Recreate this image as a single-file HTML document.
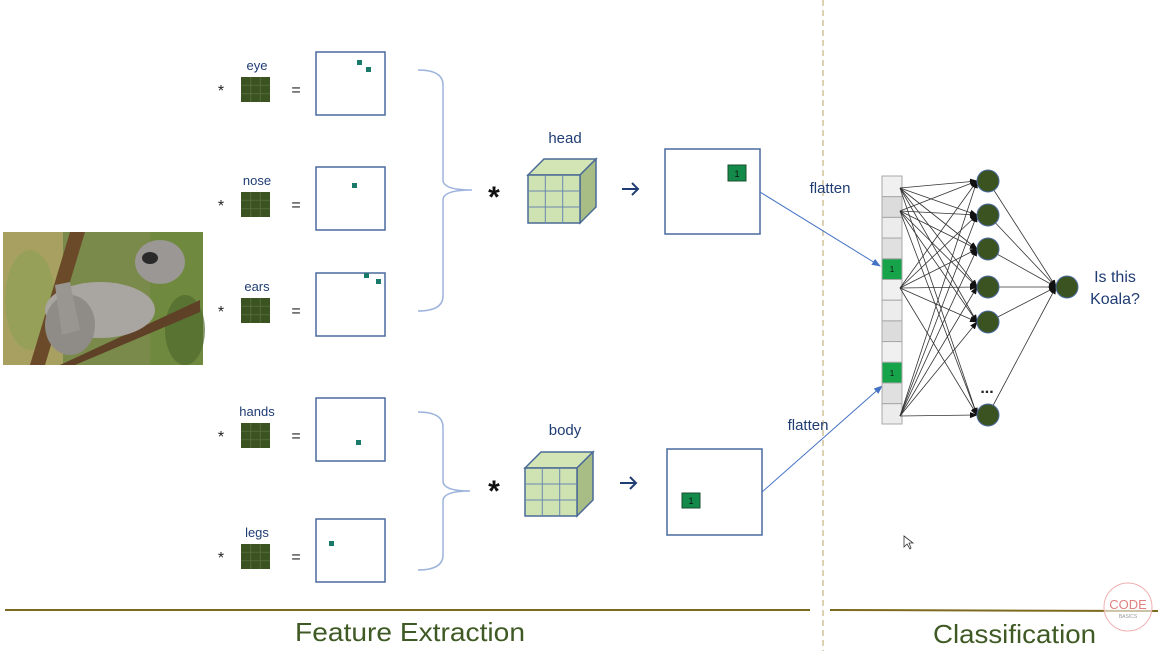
<!DOCTYPE html>
<html><head><meta charset="utf-8"><style>
html,body{margin:0;padding:0;background:#fff;}
svg{display:block;font-family:"Liberation Sans","DejaVu Sans",sans-serif;}
</style></head><body>
<svg width="1168" height="651" viewBox="0 0 1168 651" xmlns="http://www.w3.org/2000/svg">
<defs>
<marker id="ah" markerWidth="8" markerHeight="8" refX="7" refY="4" orient="auto" markerUnits="userSpaceOnUse"><path d="M0,1 L8,4 L0,7 Z" fill="#111"/></marker>
<marker id="ab" markerWidth="9" markerHeight="9" refX="8" refY="4.5" orient="auto" markerUnits="userSpaceOnUse"><path d="M0,1 L9,4.5 L0,8 Z" fill="#4472c4"/></marker>
<g id="filt"><rect x="0" y="0" width="29" height="25" fill="#3b5320"/><path d="M9.7,0V25M19.3,0V25M0,8.3H29M0,16.7H29" stroke="#556b3a" stroke-width="1"/></g>
<g id="cube"><path d="M0,16 L16,0 L68,0 L52,16 Z" fill="#d3e4b5" stroke="#4a6a95" stroke-width="1.5"/><path d="M52,16 L68,0 L68,48 L52,64 Z" fill="#a8bd86" stroke="#4a6a95" stroke-width="1.5"/><rect x="0" y="16" width="52" height="48" fill="#cfe2b1" stroke="#4a6a95" stroke-width="1.5"/><path d="M17.3,16V64M34.7,16V64M0,32H52M0,48H52" stroke="#6a88b0" stroke-width="1"/></g>
</defs>

<!-- koala photo -->
<rect x="3" y="232" width="200" height="133" fill="#7a8a4a"/>
<rect x="3" y="232" width="60" height="133" fill="#a8a060"/>
<rect x="150" y="232" width="53" height="133" fill="#6f8a3e"/>
<ellipse cx="30" cy="300" rx="25" ry="50" fill="#8fa055" opacity="0.7"/>
<ellipse cx="185" cy="330" rx="20" ry="35" fill="#4f6a2e" opacity="0.7"/>
<path d="M30,365 L70,232 L85,232 L45,365 Z" fill="#6b4a2a"/>
<path d="M60,365 L200,300 L200,312 L75,365 Z" fill="#5e4126"/>
<ellipse cx="100" cy="310" rx="55" ry="28" fill="#a9a5a0"/>
<ellipse cx="70" cy="325" rx="25" ry="30" fill="#8f8c88"/>
<ellipse cx="160" cy="262" rx="25" ry="22" fill="#9a9794"/>
<ellipse cx="150" cy="258" rx="8" ry="6" fill="#2a2a2a"/>
<path d="M55,285 L70,282 L80,330 L62,335 Z" fill="#999590"/>

<!-- rows -->
<g fill="#1f3c73" font-size="13" text-anchor="middle">
<text x="257" y="70">eye</text><text x="257" y="185">nose</text><text x="257" y="291">ears</text><text x="257" y="416">hands</text><text x="257" y="537">legs</text>
</g>
<g fill="#222" font-size="16" text-anchor="middle">
<text x="221" y="96">*</text><text x="221" y="211">*</text><text x="221" y="317">*</text><text x="221" y="442">*</text><text x="221" y="563">*</text>
<text x="296" y="95">=</text><text x="296" y="210">=</text><text x="296" y="316">=</text><text x="296" y="441">=</text><text x="296" y="562">=</text>
</g>
<use href="#filt" x="241" y="77"/><use href="#filt" x="241" y="192"/><use href="#filt" x="241" y="298"/><use href="#filt" x="241" y="423"/><use href="#filt" x="241" y="544"/>
<g fill="#fff" stroke="#4a6a9e" stroke-width="1.5">
<rect x="316" y="52" width="69" height="63"/><rect x="316" y="167" width="69" height="63"/><rect x="316" y="273" width="69" height="63"/><rect x="316" y="398" width="69" height="63"/><rect x="316" y="519" width="69" height="63"/>
</g>
<g fill="#1a7a6a">
<rect x="357" y="60" width="5" height="5"/><rect x="366" y="67" width="5" height="5"/>
<rect x="352" y="183" width="5" height="5"/>
<rect x="364" y="273" width="5" height="5"/><rect x="376" y="279" width="5" height="5"/>
<rect x="356" y="440" width="5" height="5"/>
<rect x="329" y="541" width="5" height="5"/>
</g>

<!-- braces -->
<g fill="none" stroke="#9db3dc" stroke-width="1.5">
<path d="M418,70 Q443,70 443,85 L443,180 Q443,190 472,190 Q443,190 443,200 L443,296 Q443,311 418,311"/>
<path d="M418,412 Q443,412 443,427 L443,481 Q443,491 470,491 Q443,491 443,501 L443,555 Q443,570 418,570"/>
</g>
<g fill="#111" font-size="30" font-weight="bold" text-anchor="middle"><text x="494" y="207">*</text><text x="494" y="501">*</text></g>
<text x="565" y="143" font-size="15" fill="#1f3c73" text-anchor="middle">head</text>
<text x="565" y="435" font-size="15" fill="#1f3c73" text-anchor="middle">body</text>
<use href="#cube" x="528" y="159"/><use href="#cube" x="525" y="452"/>
<g fill="none" stroke="#1f3c73" stroke-width="2"><path d="M622,189H638M632,183L638,189L632,195"/><path d="M620,483H636M630,477L636,483L630,489"/></g>

<g fill="#fff" stroke="#4a6a9e" stroke-width="1.5"><rect x="665" y="149" width="95" height="85"/><rect x="667" y="449" width="95" height="86"/></g>
<g fill="#138a4a" stroke="#1b4d2e" stroke-width="1"><rect x="728" y="165" width="18" height="16"/><rect x="682" y="493" width="18" height="15"/></g>
<g font-size="9" fill="#111" text-anchor="middle"><text x="737" y="177">1</text><text x="691" y="504">1</text></g>

<!-- divider -->
<line x1="823" y1="0" x2="823" y2="651" stroke="#cfc39a" stroke-width="1.5" stroke-dasharray="6,4"/>

<g stroke="#4472c4" stroke-width="1" marker-end="url(#ab)"><line x1="760" y1="192" x2="880" y2="266"/><line x1="762" y1="492" x2="882" y2="386"/></g>
<g font-size="15" fill="#1f3c73" text-anchor="middle"><text x="830" y="193">flatten</text><text x="808" y="430">flatten</text></g>

<!-- column -->
<g stroke="#a8a8a8" stroke-width="1">
<rect x="882" y="176" width="20" height="20.7" fill="#f0f0f0"/><rect x="882" y="196.7" width="20" height="20.7" fill="#dcdcdc"/>
<rect x="882" y="217.4" width="20" height="20.7" fill="#ececec"/><rect x="882" y="238.1" width="20" height="20.7" fill="#e0e0e0"/>
<rect x="882" y="258.8" width="20" height="20.7" fill="#16a34a"/><rect x="882" y="279.5" width="20" height="20.7" fill="#f0f0f0"/>
<rect x="882" y="300.2" width="20" height="20.7" fill="#ececec"/><rect x="882" y="320.9" width="20" height="20.7" fill="#dcdcdc"/>
<rect x="882" y="341.6" width="20" height="20.7" fill="#f0f0f0"/><rect x="882" y="362.3" width="20" height="20.7" fill="#16a34a"/>
<rect x="882" y="383" width="20" height="20.7" fill="#e0e0e0"/><rect x="882" y="403.7" width="20" height="20.3" fill="#ececec"/>
</g>
<g font-size="8" fill="#111" text-anchor="middle"><text x="892" y="272">1</text><text x="892" y="376">1</text></g>

<g stroke="#333" stroke-width="0.8" marker-end="url(#ah)">
<line x1="900" y1="188" x2="977" y2="181"/><line x1="900" y1="188" x2="977" y2="215"/><line x1="900" y1="188" x2="977" y2="249"/><line x1="900" y1="188" x2="977" y2="287"/><line x1="900" y1="188" x2="977" y2="322"/><line x1="900" y1="188" x2="977" y2="415"/>
<line x1="900" y1="211" x2="977" y2="181"/><line x1="900" y1="211" x2="977" y2="215"/><line x1="900" y1="211" x2="977" y2="249"/><line x1="900" y1="211" x2="977" y2="287"/><line x1="900" y1="211" x2="977" y2="322"/><line x1="900" y1="211" x2="977" y2="415"/>
<line x1="900" y1="288" x2="977" y2="181"/><line x1="900" y1="288" x2="977" y2="215"/><line x1="900" y1="288" x2="977" y2="249"/><line x1="900" y1="288" x2="977" y2="287"/><line x1="900" y1="288" x2="977" y2="322"/><line x1="900" y1="288" x2="977" y2="415"/>
<line x1="900" y1="416" x2="977" y2="181"/><line x1="900" y1="416" x2="977" y2="215"/><line x1="900" y1="416" x2="977" y2="249"/><line x1="900" y1="416" x2="977" y2="287"/><line x1="900" y1="416" x2="977" y2="322"/><line x1="900" y1="416" x2="977" y2="415"/>
<line x1="988" y1="181" x2="1056" y2="287"/><line x1="988" y1="215" x2="1056" y2="287"/><line x1="988" y1="249" x2="1056" y2="287"/><line x1="988" y1="287" x2="1056" y2="287"/><line x1="988" y1="322" x2="1056" y2="287"/><line x1="988" y1="415" x2="1056" y2="287"/>
</g>
<g fill="#3b5320" stroke="#4a6a9e" stroke-width="1">
<circle cx="988" cy="181" r="11"/><circle cx="988" cy="215" r="11"/><circle cx="988" cy="249" r="11"/><circle cx="988" cy="287" r="11"/><circle cx="988" cy="322" r="11"/><circle cx="988" cy="415" r="11"/><circle cx="1067" cy="287" r="11"/>
</g>
<text x="987" y="393" font-size="16" font-weight="bold" fill="#222" text-anchor="middle">...</text>
<g font-size="16" fill="#1f3c73" text-anchor="middle"><text x="1115" y="282">Is this</text><text x="1115" y="304">Koala?</text></g>

<!-- cursor -->
<path d="M904,536 L904,547 L907,544 L910,549 L911,548 L909,543 L913,543 Z" fill="#fff" stroke="#333" stroke-width="0.8"/>

<!-- bottom -->
<line x1="5" y1="610" x2="810" y2="610" stroke="#7d6a1e" stroke-width="2"/>
<line x1="830" y1="610" x2="1158" y2="611" stroke="#7d6a1e" stroke-width="2"/>
<g font-size="26" fill="#3f5a24">
<text x="295" y="641" textLength="230" lengthAdjust="spacingAndGlyphs">Feature Extraction</text>
<text x="933" y="643" textLength="163" lengthAdjust="spacingAndGlyphs">Classification</text>
</g>
<circle cx="1128" cy="607" r="24" fill="#fff" fill-opacity="0.6" stroke="#f0b0b0" stroke-width="1"/>
<text x="1128" y="609" font-size="13" fill="#e08080" text-anchor="middle">CODE</text>
<text x="1128" y="618" font-size="5" fill="#999" text-anchor="middle">BASICS</text>
</svg>
</body></html>
